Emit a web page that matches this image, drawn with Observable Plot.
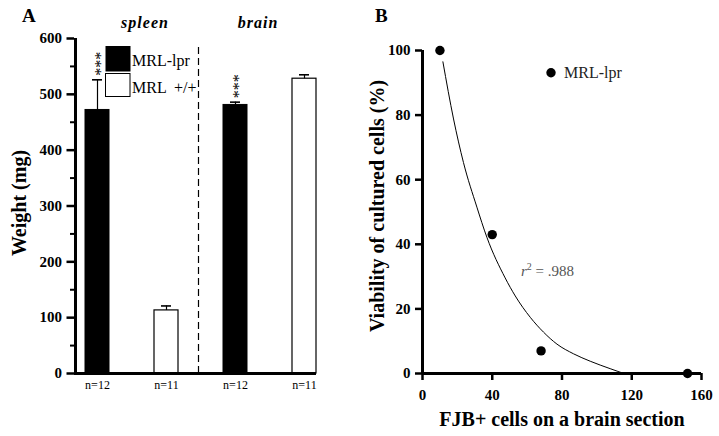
<!DOCTYPE html>
<html><head><meta charset="utf-8">
<script src="https://cdn.jsdelivr.net/npm/d3@7"></script>
<script src="https://cdn.jsdelivr.net/npm/@observablehq/plot@0.6"></script>
<style>
body{margin:0;background:#fff;}
#wrap{position:relative;width:719px;height:436px;overflow:hidden;background:#fff;}
#wrap > svg{position:absolute;top:0;}
#wrap svg text{font-family:"Liberation Serif","Times New Roman",serif;}
</style></head><body><div id="wrap"></div>
<script>
// ---------- Panel A data ----------
const barKeys = ["spleen-lpr","spleen-wt","brain-lpr","brain-wt"];
const barStrains = ["MRL-lpr","MRL +/+","MRL-lpr","MRL +/+"];
const barMeans = [472, 113, 481, 528];
const barErrors = [54, 8, 5, 7];
const barN = ["n=12","n=11","n=12","n=11"];
const barSig = ["***","","***",""];
const weightTicks = [0,100,200,300,400,500,600];
const weightMinorTicks = [50,150,250,350,450,550];
const groupLabels = ["spleen","brain"];
const separatorTop = 585;

// ---------- Panel B data ----------
const fjb = [10, 40, 68, 152];
const viability = [100, 43, 7, 0];
const fitX = [11.7, 17.8, 23.5, 31.2, 36.9, 47.4, 53.2, 61.8, 69.4, 77.1, 86.6, 96.2, 107.6, 115.5];
const fitY = [96.5, 78.8, 65.3, 51.5, 42.2, 29.6, 24.0, 17.4, 12.8, 9.1, 6.1, 3.8, 1.5, 0];
const fjbTicks = [0,40,80,120,160];
const viabilityTicks = [0,20,40,60,80,100];
const rSquared = ".988";

const serif = "Liberation Serif";

const bars = barKeys.map((k,i)=>({key:k, strain:barStrains[i], mean:barMeans[i], top:barMeans[i]+barErrors[i], sig:barSig[i]}));

const plotA = Plot.plot({
  width:360, height:436, marginLeft:74, marginRight:44, marginTop:38, marginBottom:63,
  style:{fontFamily:serif, background:"transparent", color:"#000", overflow:"visible"},
  x:{type:"band", domain:barKeys, paddingInner:0.655, paddingOuter:0.068, align:1, axis:null},
  y:{domain:[0,600], axis:null},
  marks:[
    Plot.ruleX([barKeys[2]], {x:d=>d, dx:-37, y1:0, y2:separatorTop, strokeDasharray:"7,4", strokeWidth:1.2}),
    Plot.barY(bars.filter(d=>d.strain==="MRL-lpr"), {x:"key", y:"mean", fill:"#000", stroke:"#000", strokeWidth:1}),
    Plot.barY(bars.filter(d=>d.strain!=="MRL-lpr"), {x:"key", y:"mean", fill:"#fff", stroke:"#000", strokeWidth:1.2}),
    Plot.ruleX(bars, {x:"key", y1:"mean", y2:"top", strokeWidth:1.2}),
    Plot.tickY(bars, {x:"key", y:"top", strokeWidth:1.6, insetLeft:7, insetRight:7}),
    Plot.text(bars.filter(d=>d.sig), {x:"key", y:"top", text:"sig", rotate:-90, textAnchor:"start", lineAnchor:"middle", dx:3, dy:-4, fontSize:16, fontFamily:serif}),
    Plot.axisY({ticks:weightMinorTicks, tickSize:4, strokeWidth:2, tickFormat:()=>"", label:null}),
    Plot.axisY({ticks:weightTicks, tickSize:7.5, tickPadding:5, strokeWidth:2.5, fontSize:15, fontWeight:"bold", fontFamily:serif, label:null}),
    Plot.axisX({tickSize:0, tickPadding:7, tickFormat:k=>barN[barKeys.indexOf(k)], fontSize:12, fontFamily:serif, label:null}),
    Plot.ruleX([barKeys[0]], {x:d=>d, dx:-22, y1:0, y2:600, strokeWidth:3}),
    Plot.ruleY([0], {strokeWidth:3})
  ]
});

const pts = fjb.map((x,i)=>({x, y:viability[i]}));
const fit = fitX.map((x,i)=>({x, y:fitY[i]}));

const plotB = Plot.plot({
  width:359, height:436, marginLeft:62, marginRight:18, marginTop:50, marginBottom:63,
  style:{fontFamily:serif, background:"transparent", color:"#000", overflow:"visible"},
  x:{domain:[0,160], axis:null},
  y:{domain:[0,100], axis:null},
  marks:[
    Plot.line(fit, {x:"x", y:"y", curve:"monotone-x", strokeWidth:1}),
    Plot.axisX({ticks:fjbTicks, tickSize:7, tickPadding:9, strokeWidth:2.5, fontSize:15, fontWeight:"bold", fontFamily:serif, label:null}),
    Plot.axisY({ticks:viabilityTicks, tickSize:7, tickPadding:5, strokeWidth:2.5, fontSize:15, fontWeight:"bold", fontFamily:serif, label:null}),
    Plot.ruleY([0], {strokeWidth:3}),
    Plot.ruleX([0], {y1:0, y2:100, strokeWidth:3}),
    Plot.dot(pts, {x:"x", y:"y", r:4.7, fill:"#000"})
  ]
});

const wrap = document.getElementById("wrap");
plotA.style.left = "0px";
plotB.style.left = "360px";
wrap.appendChild(plotA);
wrap.appendChild(plotB);

// ---------- annotation overlay (labels, legends) ----------
const ov = d3.select(wrap).append("svg")
  .attr("width",719).attr("height",436)
  .style("left","0px");

function txt(x,y,s,opts={}){
  const t = ov.append("text").attr("x",x).attr("y",y).text(s)
    .attr("font-size",opts.size||16)
    .attr("font-weight",opts.weight||"normal")
    .attr("font-style",opts.style||"normal")
    .attr("fill",opts.fill||"#000")
    .attr("text-anchor",opts.anchor||"start")
    .style("white-space","pre");
  if (opts.rotate) t.attr("transform",`rotate(-90 ${x} ${y})`);
  if (opts.ls) t.attr("letter-spacing",opts.ls);
  return t;
}

txt(22,22,"A",{size:19,weight:"bold"});
txt(375,22,"B",{size:19,weight:"bold"});
txt(145,28,groupLabels[0],{size:16,weight:"bold",style:"italic",anchor:"middle",ls:1});
txt(258,28,groupLabels[1],{size:16,weight:"bold",style:"italic",anchor:"middle",ls:1});
txt(26,203,"Weight (mg)",{size:20,weight:"bold",anchor:"middle",rotate:true});
txt(384,206,"Viability of cultured cells (%)",{size:20,weight:"bold",anchor:"middle",rotate:true});
txt(562,426,"FJB+ cells on a brain section",{size:20,weight:"bold",anchor:"middle"});

ov.append("rect").attr("x",105.5).attr("y",46).attr("width",25).attr("height",25.5).attr("fill","#000");
ov.append("rect").attr("x",105.5).attr("y",73.5).attr("width",24.5).attr("height",23).attr("fill","#fff").attr("stroke","#000").attr("stroke-width",1);
txt(132,66,"MRL-lpr",{size:16});
txt(132,93,"MRL  +/+",{size:16});

ov.append("circle").attr("cx",551).attr("cy",72.7).attr("r",4.7).attr("fill","#000");
txt(564,78,"MRL-lpr",{size:16,fill:"#222"});

const r2 = txt(521,276,"",{size:15,fill:"#555"});
r2.append("tspan").attr("font-style","italic").text("r");
r2.append("tspan").attr("font-size",10).attr("dy",-6).text("2");
r2.append("tspan").attr("dy",6).text(" = " + rSquared);
</script>
</body></html>
